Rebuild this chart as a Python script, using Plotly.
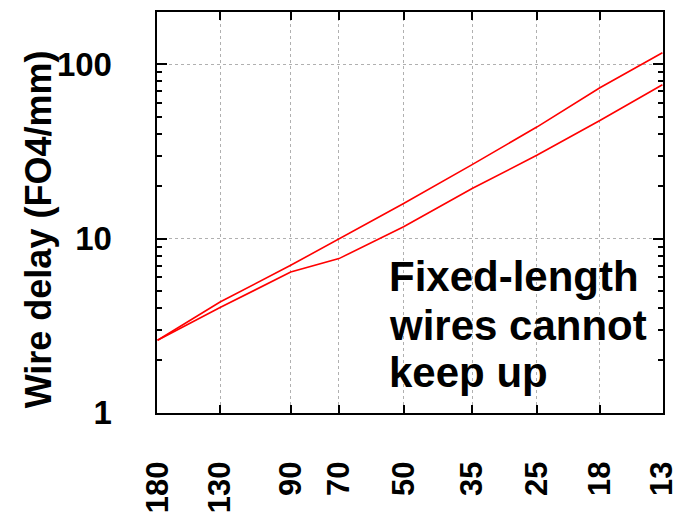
import numpy as np
import plotly.graph_objects as go

nodes = [180, 130, 90, 70, 50, 35, 25, 18, 13]
node_labels = ["180", "130", "90", "70", "50", "35", "25", "18", "13"]
upper_delay = [2.61, 4.33, 7.03, 10.0, 15.9, 26.6, 43.7, 73.5, 116.7]
lower_delay = [2.61, 4.02, 6.43, 7.68, 11.7, 19.4, 30.1, 47.7, 76.5]
note_lines = ["Fixed-length", "wires cannot", "keep up"]

FONT = "Liberation Sans, Arial, sans-serif"
PAD = "\u00a0" * 4

fig = go.Figure()
for vals in (upper_delay, lower_delay):
    fig.add_trace(go.Scatter(x=nodes, y=vals, mode="lines",
                             line=dict(color="#ff0000", width=1.6),
                             showlegend=False, hoverinfo="skip"))

note_y = [0.340, 0.217, 0.102]
for txt, yy in zip(note_lines, note_y):
    fig.add_annotation(text=txt, xref="paper", yref="paper", x=0.455, y=yy,
                       xanchor="left", yanchor="middle", showarrow=False,
                       font=dict(family=FONT, size=42, color="black", weight="bold"))

fig.add_annotation(text="Wire delay (FO4/mm)", xref="paper", yref="paper",
                   x=0, xshift=-119, y=0.458, textangle=-90, showarrow=False,
                   xanchor="center", yanchor="middle",
                   font=dict(family=FONT, size=36, color="black", weight="bold"))

axis_common = dict(showline=True, linecolor="black", linewidth=1.5, mirror="allticks",
                   ticks="inside", tickcolor="black", tickwidth=2,
                   showgrid=True, gridcolor="#b0b0b0", gridwidth=1, griddash="dot",
                   zeroline=False, ticklabeloverflow="allow")

fig.update_xaxes(type="log", range=[np.log10(180.5), np.log10(12.96)],
                 tickmode="array", tickvals=nodes, ticktext=[t + PAD for t in node_labels],
                 tickangle=-90, ticklen=8,
                 tickfont=dict(family=FONT, size=31, color="black", weight="bold"),
                 **axis_common)
fig.update_yaxes(type="log", range=[-0.001, np.log10(200)],
                 tickmode="linear", tick0=0, dtick=1, ticksuffix=PAD,
                 ticklen=10,
                 tickfont=dict(family=FONT, size=33, color="black", weight="bold"),
                 minor=dict(ticks="inside", ticklen=5, tickcolor="black", tickwidth=1.5,
                            dtick="D1", showgrid=False),
                 **axis_common)

fig.update_layout(width=679, height=512, margin=dict(l=157, r=16, t=12, b=99, autoexpand=False),
                  plot_bgcolor="white", paper_bgcolor="white")

fig.write_html("out.html")
